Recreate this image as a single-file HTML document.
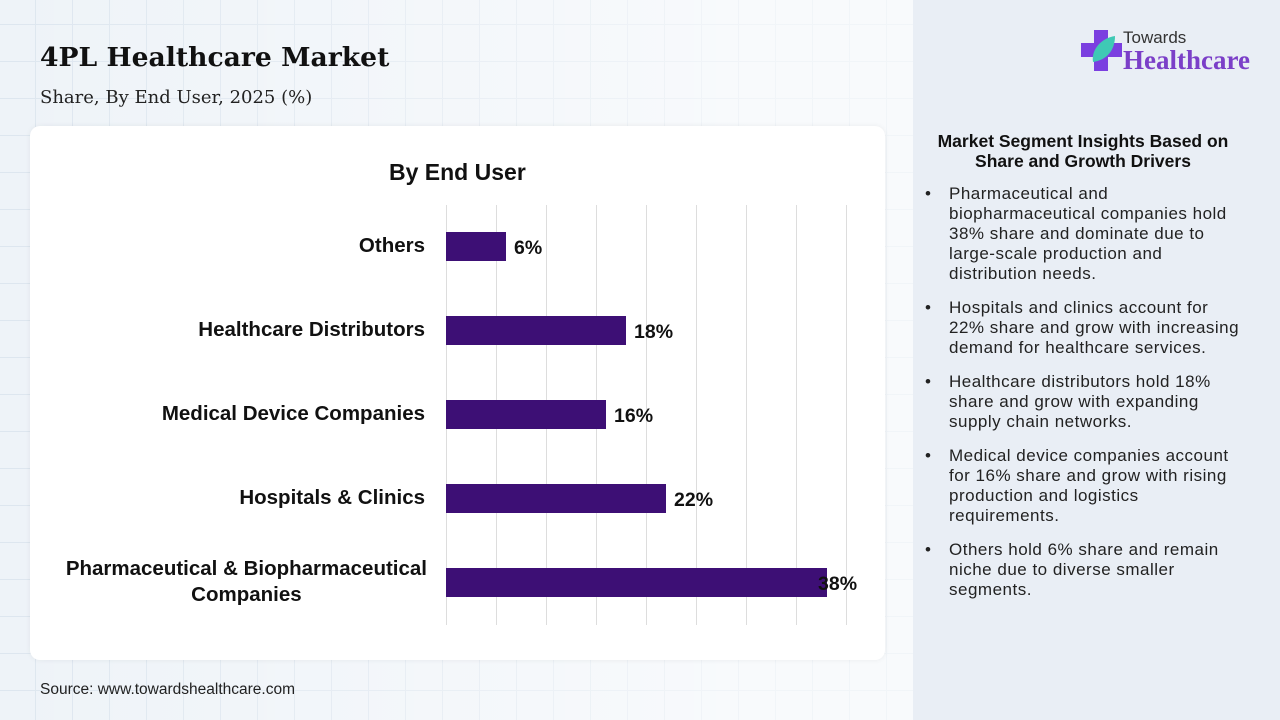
<!DOCTYPE html>
<html><head><meta charset="utf-8"><style>
body{margin:0;width:1280px;height:720px;position:relative;overflow:hidden;font-family:"Liberation Sans",sans-serif;
background-color:#eef3f8;
background-image:linear-gradient(90deg,rgba(255,255,255,0) 0,rgba(255,255,255,0.6) 60%),linear-gradient(#dde6ef 1px,transparent 1px),linear-gradient(90deg,#dde6ef 1px,transparent 1px);
background-size:100% 100%,37px 37px,37px 37px;background-position:0 0,0 24px,35px 0;}
.t{position:absolute;left:40px;top:42px;font-family:"DejaVu Serif",serif;font-weight:bold;font-size:26.6px;color:#111}
.s{position:absolute;left:40px;top:87px;font-family:"DejaVu Serif",serif;font-size:18px;color:#222}
.card{position:absolute;left:30px;top:126px;width:855px;height:534px;background:#fff;border-radius:10px;box-shadow:0 0 6px rgba(0,0,0,0.06)}
.right{position:absolute;left:913px;top:0;width:367px;height:720px;background:#e9eef5}
.lab{position:absolute;right:855px;font-weight:bold;font-size:20.5px;color:#111;text-align:right;line-height:26px}
.bar{position:absolute;left:446px;height:29px;background:#3d0f75}
.v{position:absolute;font-weight:bold;font-size:19.5px;color:#111}
.g{position:absolute;top:205px;height:420px;width:1px;background:#ddd}
ul{margin:0;padding:0;list-style:none}
li{position:relative;padding-left:36px;margin-bottom:14px;font-size:17px;letter-spacing:0.5px;line-height:20px;color:#222;white-space:nowrap}
li:before{content:"•";position:absolute;left:12px}
</style></head><body>
<div class="t">4PL Healthcare Market</div>
<div class="s">Share, By End User, 2025 (%)</div>
<div class="card"></div>
<div style="position:absolute;left:389px;top:159px;font-weight:bold;font-size:23px;color:#111">By End User</div>
<div class="g" style="left:446px"></div><div class="g" style="left:496px"></div><div class="g" style="left:546px"></div><div class="g" style="left:596px"></div><div class="g" style="left:646px"></div><div class="g" style="left:696px"></div><div class="g" style="left:746px"></div><div class="g" style="left:796px"></div><div class="g" style="left:846px"></div>
<div class="lab" style="top:233px">Others</div>
<div class="lab" style="top:317px">Healthcare Distributors</div>
<div class="lab" style="top:401px">Medical Device Companies</div>
<div class="lab" style="top:485px">Hospitals &amp; Clinics</div>
<div class="lab" style="top:556px;text-align:center;right:853px">Pharmaceutical &amp; Biopharmaceutical<br>Companies</div>
<div class="bar" style="top:232px;width:60px"></div><div class="v" style="left:514px;top:237px">6%</div>
<div class="bar" style="top:316px;width:180px"></div><div class="v" style="left:634px;top:321px">18%</div>
<div class="bar" style="top:400px;width:160px"></div><div class="v" style="left:614px;top:405px">16%</div>
<div class="bar" style="top:484px;width:220px"></div><div class="v" style="left:674px;top:489px">22%</div>
<div class="bar" style="top:568px;width:381px"></div><div class="v" style="left:818px;top:573px">38%</div>
<div style="position:absolute;left:40px;top:681px;font-size:15.5px;color:#222">Source: www.towardshealthcare.com</div>
<div class="right">
<svg style="position:absolute;left:168px;top:30px" width="42" height="42"><path d="M13 0h14v13h14v14H27v14H13V27H0V13h13z" fill="#7b3fe0"/><path d="M12 32C10 20 20 8 34 6 34 20 26 30 12 32z" fill="#3fc9b5"/></svg>
<div style="position:absolute;left:210px;top:28px;font-size:17px;color:#333">Towards</div>
<div style="position:absolute;left:210px;top:45px;font-family:'Liberation Serif',serif;font-weight:bold;font-size:27px;color:#7b3fc8">Healthcare</div>
<div style="position:absolute;left:0;width:340px;top:131px;text-align:center;font-weight:bold;font-size:17.5px;line-height:20px;color:#111">Market Segment Insights Based on<br>Share and Growth Drivers</div>
<ul style="position:absolute;left:0;top:184px;width:340px">
<li>Pharmaceutical and<br>biopharmaceutical companies hold<br>38% share and dominate due to<br>large-scale production and<br>distribution needs.</li>
<li>Hospitals and clinics account for<br>22% share and grow with increasing<br>demand for healthcare services.</li>
<li>Healthcare distributors hold 18%<br>share and grow with expanding<br>supply chain networks.</li>
<li>Medical device companies account<br>for 16% share and grow with rising<br>production and logistics<br>requirements.</li>
<li>Others hold 6% share and remain<br>niche due to diverse smaller<br>segments.</li>
</ul></div>
</body></html>
